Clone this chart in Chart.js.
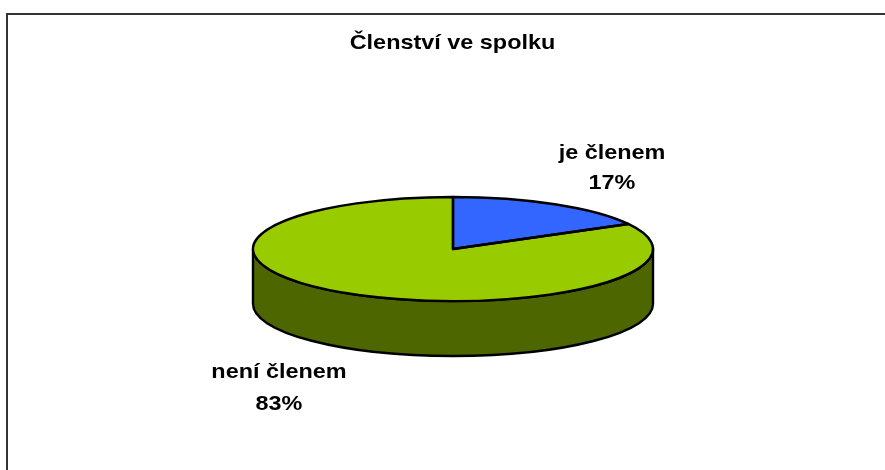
<!DOCTYPE html>
<html lang="cs">
<head>
<meta charset="utf-8">
<title>Členství ve spolku</title>
<script src="https://cdn.jsdelivr.net/npm/chart.js@4"></script>
<style>html,body{margin:0;padding:0;background:#fff}canvas{display:block}</style>
</head>
<body>
<canvas id="c" width="885" height="470"></canvas>
<script>
const chartTitle = "Členství ve spolku";
const categories = ["je členem", "není členem"];
const shares = [17, 83];
const topColors = ["#3366FF", "#99CC00"];
const wallColors = ["#1A3380", "#4D6600"];

const FONT = '"Liberation Sans", Arial, sans-serif';
const FONT_SIZE = 21, TEXT_STRETCH = 1.115;
const RADIUS = 200, SQUASH = 52 / 200, DEPTH = 55;
const titleAnchor = [452.5, 49];
const labelAnchors = [[612, 159, 189], [279, 378, 410]];

function stretchedText(ctx, text, x, y) {
  ctx.save();
  ctx.translate(x, y);
  ctx.scale(TEXT_STRETCH, 1);
  ctx.fillText(text, 0, 0);
  ctx.restore();
}

const pie3d = {
  id: "pie3d",
  beforeDatasetsDraw(chart) {
    const ctx = chart.ctx, arcs = chart.getDatasetMeta(0).data;
    const first = arcs[0], cx = first.x, cy = first.y, ry = RADIUS * SQUASH;
    ctx.save();
    ctx.lineWidth = 2.4; ctx.strokeStyle = "#000"; ctx.lineJoin = "round";
    arcs.forEach((arc, i) => {
      const a = Math.max(arc.startAngle, 0), b = Math.min(arc.endAngle, Math.PI);
      if (b <= a) return;
      ctx.beginPath();
      ctx.ellipse(cx, cy, RADIUS, ry, 0, a, b);
      ctx.ellipse(cx, cy + DEPTH, RADIUS, ry, 0, b, a, true);
      ctx.closePath();
      ctx.fillStyle = wallColors[i];
      ctx.fill(); ctx.stroke();
    });
    ctx.restore();
    ctx.save();
    ctx.translate(0, cy); ctx.scale(1, SQUASH); ctx.translate(0, -cy);
  },
  afterDatasetsDraw(chart) {
    const ctx = chart.ctx, arcs = chart.getDatasetMeta(0).data;
    ctx.restore();
    const cx = arcs[0].x, cy = arcs[0].y, ry = RADIUS * SQUASH;
    ctx.save();
    ctx.lineWidth = 2.4; ctx.strokeStyle = "#000"; ctx.lineJoin = "round";
    arcs.forEach(arc => {
      ctx.beginPath();
      ctx.moveTo(cx, cy);
      ctx.ellipse(cx, cy, RADIUS, ry, 0, arc.startAngle, arc.endAngle);
      ctx.closePath();
      ctx.stroke();
    });
    ctx.fillStyle = "#000";
    ctx.font = "bold " + FONT_SIZE + "px " + FONT;
    ctx.textAlign = "center"; ctx.textBaseline = "alphabetic";
    stretchedText(ctx, chartTitle, titleAnchor[0], titleAnchor[1]);
    categories.forEach((name, i) => {
      const [x, y1, y2] = labelAnchors[i];
      stretchedText(ctx, name, x, y1);
      stretchedText(ctx, shares[i] + "%", x, y2);
    });
    ctx.fillStyle = "#333";
    ctx.fillRect(6, 13, 879, 2);
    ctx.fillRect(6, 13, 2, 457);
    ctx.restore();
  }
};

new Chart(document.getElementById("c"), {
  type: "pie",
  data: {
    labels: categories,
    datasets: [{ data: shares, backgroundColor: topColors, borderWidth: 0, radius: RADIUS }]
  },
  plugins: [pie3d],
  options: {
    responsive: false,
    animation: false,
    events: [],
    layout: { padding: { left: 21, right: 0, top: 28, bottom: 0 } },
    plugins: {
      legend: { display: false },
      tooltip: { enabled: false },
      title: { display: false }
    }
  }
});
</script>
</body>
</html>
